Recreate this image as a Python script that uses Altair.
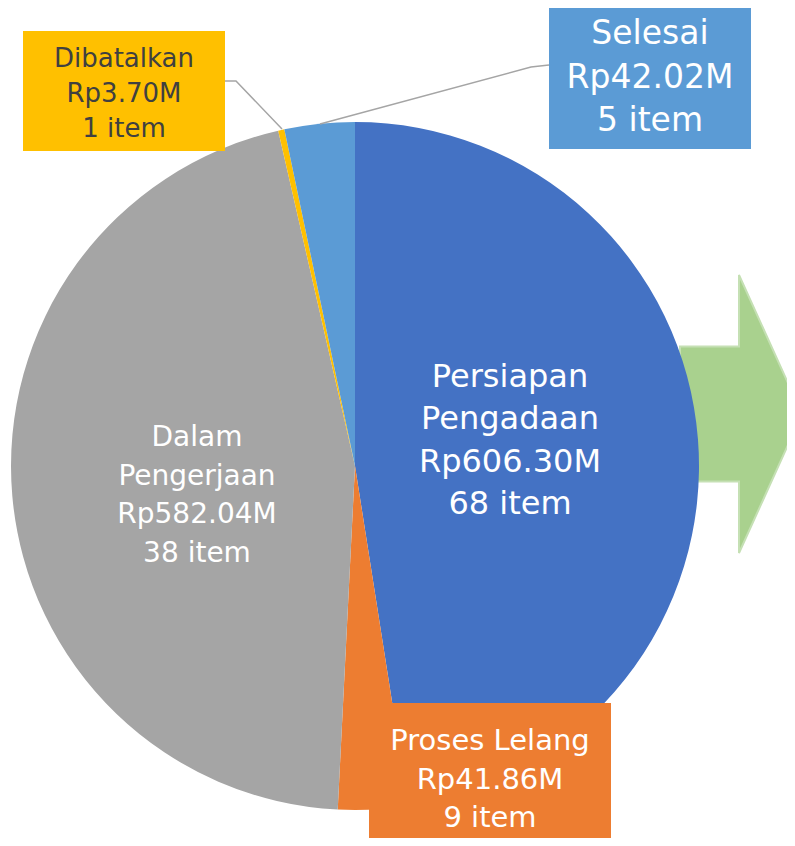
import altair as alt
import pandas as pd

# ---- data ----
categories = ["Persiapan Pengadaan", "Proses Lelang", "Dalam Pengerjaan", "Dibatalkan", "Selesai"]
values_m = [606.30, 41.86, 582.04, 3.70, 42.02]
items = [68, 9, 38, 1, 5]
name_lines = [["Persiapan", "Pengadaan"], ["Proses Lelang"], ["Dalam", "Pengerjaan"], ["Dibatalkan"], ["Selesai"]]
colors = ["#4472C4", "#ED7D31", "#A5A5A5", "#FFC000", "#5B9BD5"]

# ---- layout (pixels in chart coords) ----
FONT = "DejaVu Sans"
CX, CY, R = 347, 458, 344
# per label: x, y (first line), font size, line height, text colour, box (x1,y1,x2,y2) or None
label_layout = {
    "Persiapan Pengadaan": (502, 369, 32, 42.3, "white", None),
    "Proses Lelang": (482, 733, 29, 38.5, "white", (361, 695, 603, 840)),
    "Dalam Pengerjaan": (189, 430, 28, 38.7, "white", None),
    "Dibatalkan": (116, 51, 26, 35, "#404040", (15, 23, 217, 143)),
    "Selesai": (642, 26, 33, 43.5, "white", (541, 0, 743, 141)),
}
leaders = {
    "Dibatalkan": [(217, 73), (228, 73), (274, 121)],
    "Selesai": [(541, 57), (523, 59), (312, 116)],
}
# block arrow drawn as a custom symbol (size 4 -> path units are pixels)
ARROW_X, ARROW_Y = 731, 406
ARROW_PATH = "M-59,-67.5 L0,-67.5 L0,-139 L63,0 L0,139 L0,67.5 L-59,67.5 Z"

pie_df = pd.DataFrame({
    "cat": categories,
    "value": values_m,
    "idx": list(range(len(categories))),
})

layers = []

# arrow behind the pie
layers.append(
    alt.Chart(pd.DataFrame({"a": [1]})).mark_point(
        shape=ARROW_PATH, size=4, filled=True, fill="#A9D18E",
        stroke="#C5E0B4", strokeWidth=2, opacity=1, fillOpacity=1,
    ).encode(x=alt.value(ARROW_X), y=alt.value(ARROW_Y))
)

# pie
layers.append(
    alt.Chart(pie_df).mark_arc(radius=R).encode(
        theta=alt.Theta("value:Q", stack=True),
        color=alt.Color("cat:N", scale=alt.Scale(domain=categories, range=colors), legend=None),
        order=alt.Order("idx:Q"),
        x=alt.value(CX),
        y=alt.value(CY),
    )
)

# leader lines
for cat, pts in leaders.items():
    ldf = pd.DataFrame({"lx": [p[0] for p in pts], "ly": [p[1] for p in pts], "o": list(range(len(pts)))})
    layers.append(
        alt.Chart(ldf).mark_line(color="#A5A5A5", strokeWidth=1.5).encode(
            x=alt.X("lx:Q", scale=None, axis=None),
            y=alt.Y("ly:Q", scale=None, axis=None),
            order=alt.Order("o:Q"),
        )
    )

# boxes and labels
for i, cat in enumerate(categories):
    x, y, fs, lh, tcol, box = label_layout[cat]
    text = "\n".join(name_lines[i] + [f"Rp{values_m[i]:.2f}M", f"{items[i]} item"])
    if box is not None:
        bdf = pd.DataFrame({"x1": [box[0]], "y1": [box[1]], "x2": [box[2]], "y2": [box[3]]})
        layers.append(
            alt.Chart(bdf).mark_rect(color=colors[i]).encode(
                x=alt.X("x1:Q", scale=None, axis=None),
                x2="x2:Q",
                y=alt.Y("y1:Q", scale=None, axis=None),
                y2="y2:Q",
            )
        )
    tdf = pd.DataFrame({"t": [text]})
    layers.append(
        alt.Chart(tdf).mark_text(
            font=FONT, fontSize=fs, lineHeight=lh, lineBreak="\n",
            color=tcol, align="center", baseline="middle",
        ).encode(
            x=alt.value(x),
            y=alt.value(y),
            text=alt.Text("t:N"),
        )
    )

chart = alt.layer(*layers).properties(
    width=779, height=830,
    autosize=alt.AutoSizeParams(type="none"),
    padding=0,
).configure_view(stroke=None)

chart.save("out.html", embed_options={"renderer": "svg", "actions": False})
